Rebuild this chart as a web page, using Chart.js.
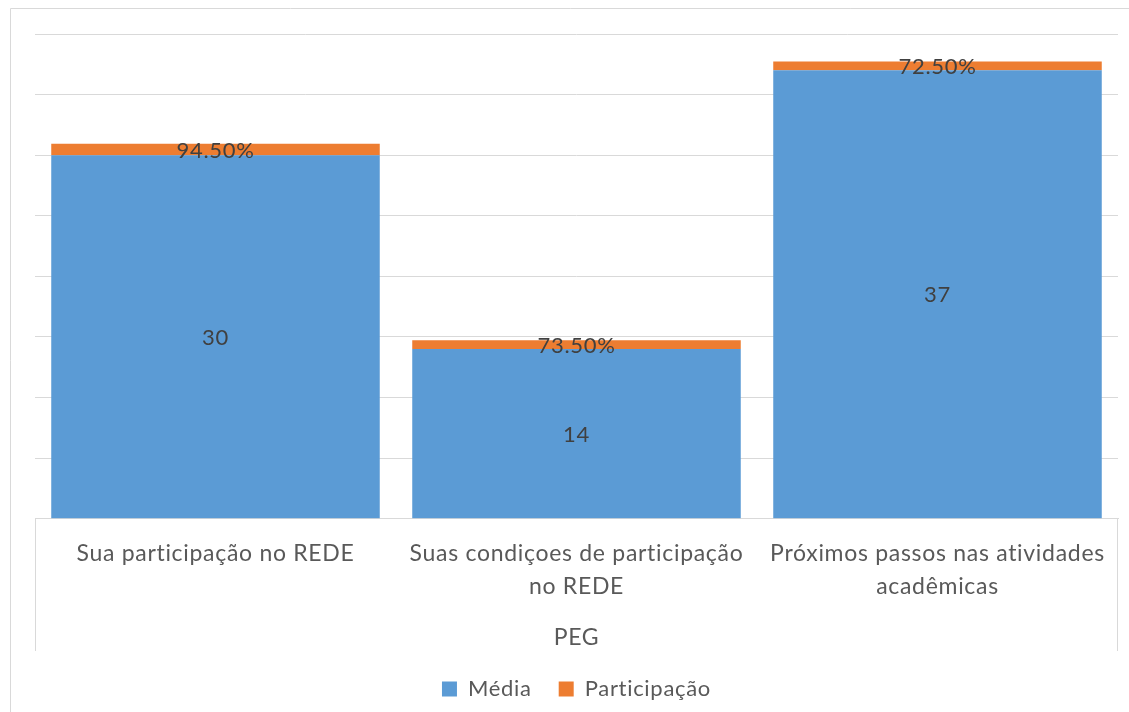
<!DOCTYPE html>
<html>
<head>
<meta charset="utf-8">
<script src="https://cdn.jsdelivr.net/npm/chart.js@4/dist/chart.umd.min.js"></script>
<style>
  html, body { margin: 0; padding: 0; background: #fff; }
  #wrap { width: 1129px; height: 712px; position: relative; }
</style>
</head>
<body>
<div id="wrap"><canvas id="grafico" width="1129" height="712"></canvas></div>
<script>
const categorias = [
    'Sua participação no REDE',
    ['Suas condiçoes de participação', 'no REDE'],
    ['Próximos passos nas atividades', 'acadêmicas']
];
const media = [30, 14, 37];
const participacao = [0.945, 0.735, 0.725];
const grupo = 'PEG';

const fonte = 'Lato, "Open Sans", sans-serif';

// texto do Excel fica um pouco mais espaçado
function espacar(chart) {
    chart.ctx.letterSpacing = '0.7px';
}

// rotulos dos dados + caixa do eixo x + borda externa
const extras = {
    id: 'extras',
    beforeUpdate: espacar,
    beforeDraw: espacar,
    afterDatasetsDraw(chart) {
        const ctx = chart.ctx;
        ctx.save();
        ctx.font = '22px ' + fonte;
        ctx.fillStyle = '#404040';
        ctx.textAlign = 'center';
        ctx.textBaseline = 'middle';
        chart.data.datasets.forEach((ds, i) => {
            chart.getDatasetMeta(i).data.forEach((bar, j) => {
                const v = ds.data[j];
                const txt = i === 0 ? String(v) : (v * 100).toFixed(2) + '%';
                ctx.fillText(txt, bar.x, (bar.y + bar.base) / 2 + 1);
            });
        });
        ctx.restore();
    },
    afterDraw(chart) {
        const ctx = chart.ctx;
        const x = chart.scales.x;
        ctx.save();
        ctx.strokeStyle = '#d9d9d9';
        ctx.lineWidth = 1;
        ctx.beginPath();
        ctx.moveTo(Math.round(x.left) + 0.5, x.top);
        ctx.lineTo(Math.round(x.left) + 0.5, x.bottom);
        ctx.moveTo(Math.round(x.right) - 0.5, x.top);
        ctx.lineTo(Math.round(x.right) - 0.5, x.bottom);
        ctx.stroke();
        // borda externa (cortada a direita e embaixo)
        ctx.beginPath();
        ctx.moveTo(10.5, chart.height + 5);
        ctx.lineTo(10.5, 8.5);
        ctx.lineTo(chart.width + 5, 8.5);
        ctx.stroke();
        ctx.restore();
    }
};

new Chart(document.getElementById('grafico'), {
    type: 'bar',
    data: {
        labels: categorias,
        datasets: [{
            label: 'Média',
            data: media,
            backgroundColor: '#5b9bd5',
            categoryPercentage: 1,
            barPercentage: 0.91
        }, {
            label: 'Participação',
            data: participacao,
            backgroundColor: '#ed7d31',
            categoryPercentage: 1,
            barPercentage: 0.91
        }]
    },
    options: {
        responsive: false,
        animation: false,
        layout: { padding: { left: 35, right: 11, top: 34, bottom: 2 } },
        plugins: {
            legend: {
                position: 'bottom',
                labels: {
                    font: { family: fonte, size: 22 },
                    color: '#595959',
                    boxWidth: 15,
                    boxHeight: 15,
                    padding: 27
                }
            },
            tooltip: { enabled: false }
        },
        scales: {
            x: {
                stacked: true,
                grid: { display: false },
                border: { display: true, color: '#d9d9d9' },
                ticks: {
                    font: { family: fonte, size: 23, lineHeight: 1.45 },
                    color: '#595959',
                    maxRotation: 0,
                    autoSkip: false,
                    padding: 10
                },
                title: {
                    display: true,
                    text: grupo,
                    font: { family: fonte, size: 23 },
                    color: '#595959',
                    padding: { top: 10, bottom: 0 }
                }
            },
            y: {
                stacked: true,
                min: 0,
                max: 40,
                ticks: { display: false, stepSize: 5 },
                grid: { color: '#d9d9d9', drawTicks: false },
                border: { display: false }
            }
        }
    },
    plugins: [extras]
});
</script>
</body>
</html>
